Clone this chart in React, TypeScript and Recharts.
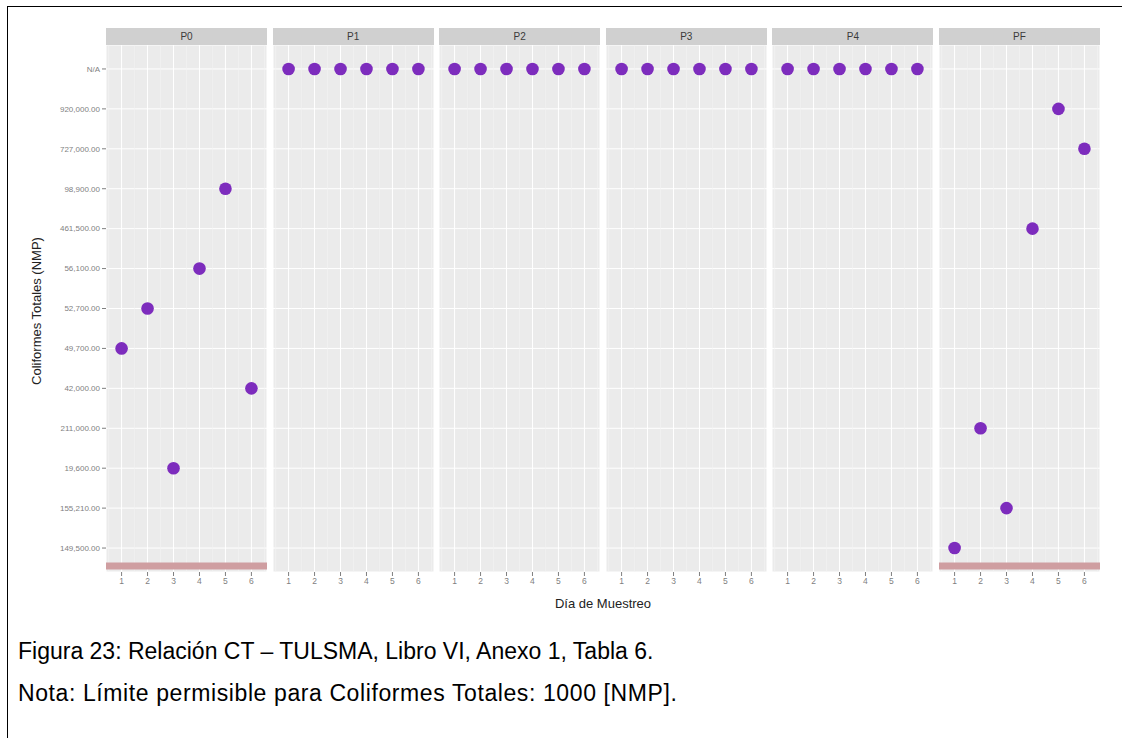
import React from "react";
import {
  ScatterChart,
  Scatter,
  XAxis,
  YAxis,
  CartesianGrid,
  ReferenceLine,
} from "recharts";

// facet names and x categories
const panels = ["P0", "P1", "P2", "P3", "P4", "PF"];
const days = [1, 2, 3, 4, 5, 6];

// discrete y levels, bottom to top (as ggplot ordered them)
const yLevels = [
  "149,500.00",
  "155,210.00",
  "19,600.00",
  "211,000.00",
  "42,000.00",
  "49,700.00",
  "52,700.00",
  "56,100.00",
  "461,500.00",
  "98,900.00",
  "727,000.00",
  "920,000.00",
  "N/A",
];

// values per panel, day 1..6
const p0Values = ["49,700.00", "52,700.00", "19,600.00", "56,100.00", "98,900.00", "42,000.00"];
const p1Values = ["N/A", "N/A", "N/A", "N/A", "N/A", "N/A"];
const p2Values = ["N/A", "N/A", "N/A", "N/A", "N/A", "N/A"];
const p3Values = ["N/A", "N/A", "N/A", "N/A", "N/A", "N/A"];
const p4Values = ["N/A", "N/A", "N/A", "N/A", "N/A", "N/A"];
const pfValues = ["149,500.00", "211,000.00", "155,210.00", "461,500.00", "920,000.00", "727,000.00"];

// panels that show the permissible-limit band (1000 NMP, below every level)
const limitPanels = ["P0", "PF"];

const panelValues = [p0Values, p1Values, p2Values, p3Values, p4Values, pfValues];

const minorX = [0.5, 1.5, 2.5, 3.5, 4.5, 5.5, 6.5];
const levelTicks = yLevels.map((_, i) => i);

const FONT = "'Liberation Sans', Arial, sans-serif";
const PLOT_TOP = 45;
const PLOT_H = 527;
const X_AXIS_H = 30;
const Y_AXIS_W = 100;
const PANEL_W = 161;
const PANEL_STEP = 166.6;
const FIRST_LEFT = 106;
const POINT = "#7d2cbd";

const Dot = (props: any) => {
  const { cx, cy } = props;
  if (cx == null || cy == null) return null;
  return <circle cx={cx} cy={cy} r={6.3} fill={POINT} />;
};

const Panel = ({ idx }: { idx: number }) => {
  const name = panels[idx];
  const withAxis = idx === 0;
  const data = days.map((d, i) => ({
    day: d,
    level: yLevels.indexOf(panelValues[idx][i]),
  }));
  const plotLeft = FIRST_LEFT + idx * PANEL_STEP;
  const left = withAxis ? plotLeft - Y_AXIS_W : plotLeft;
  const width = withAxis ? PANEL_W + Y_AXIS_W : PANEL_W;

  return (
    <>
      <div
        style={{
          position: "absolute",
          left: plotLeft,
          top: 28,
          width: PANEL_W,
          height: 17,
          background: "#d0d0d0",
          color: "#3a3a3a",
          fontFamily: FONT,
          fontSize: 10,
          lineHeight: "17px",
          textAlign: "center",
        }}
      >
        {name}
      </div>
      <div style={{ position: "absolute", left, top: PLOT_TOP }}>
        <ScatterChart
          width={width}
          height={PLOT_H + X_AXIS_H}
          margin={{ top: 0, right: 0, bottom: 0, left: 0 }}
        >
          <CartesianGrid fill="#ebebeb" stroke="#ffffff" strokeWidth={1} />
          {minorX.map((x) => (
            <ReferenceLine key={x} x={x} stroke="#f4f4f4" strokeWidth={0.6} />
          ))}
          <XAxis
            type="number"
            dataKey="day"
            domain={[0.4, 6.6]}
            ticks={days}
            allowDataOverflow
            height={X_AXIS_H}
            axisLine={false}
            tickSize={4}
            tickMargin={2}
            tickLine={{ stroke: "#7f7f7f" }}
            tick={{ fill: "#7f7f7f", fontSize: 8.5, fontFamily: FONT }}
          />
          <YAxis
            type="number"
            dataKey="level"
            domain={[-0.6, 12.6]}
            ticks={levelTicks}
            allowDataOverflow
            hide={!withAxis}
            width={Y_AXIS_W}
            axisLine={false}
            tickSize={4}
            tickMargin={2}
            tickLine={{ stroke: "#7f7f7f" }}
            tick={{ fill: "#7f7f7f", fontSize: 8, fontFamily: FONT }}
            tickFormatter={(v: number) => yLevels[v] ?? ""}
            interval={0}
          />
          {limitPanels.includes(name) && (
            <ReferenceLine y={-0.45} stroke="#cf9ea1" strokeWidth={7} />
          )}
          <Scatter
            data={data}
            shape={<Dot />}
            isAnimationActive={false}
          />
        </ScatterChart>
      </div>
    </>
  );
};

export default function App() {
  return (
    <div
      style={{
        position: "absolute",
        left: 0,
        top: 0,
        width: 1127,
        height: 738,
        background: "#ffffff",
        overflow: "hidden",
      }}
    >
      {/* page frame */}
      <div style={{ position: "absolute", left: 7, top: 6, width: 1115, height: 1, background: "#000" }} />
      <div style={{ position: "absolute", left: 7, top: 6, width: 1, height: 732, background: "#000" }} />

      {panels.map((_, i) => (
        <Panel key={i} idx={i} />
      ))}

      <div
        style={{
          position: "absolute",
          left: 503,
          top: 596,
          width: 200,
          textAlign: "center",
          fontFamily: FONT,
          fontSize: 13,
          color: "#222",
        }}
      >
        Día de Muestreo
      </div>
      <div
        style={{
          position: "absolute",
          left: 37 - 100,
          top: 311 - 8,
          width: 200,
          textAlign: "center",
          fontFamily: FONT,
          fontSize: 13,
          lineHeight: "16px",
          color: "#222",
          transform: "rotate(-90deg)",
        }}
      >
        Coliformes Totales (NMP)
      </div>

      <div
        style={{
          position: "absolute",
          left: 18,
          top: 637,
          fontFamily: FONT,
          fontSize: 23,
          lineHeight: "28px",
          color: "#000",
          whiteSpace: "nowrap",
        }}
      >
        Figura 23: Relación CT – TULSMA, Libro VI, Anexo 1, Tabla 6.
      </div>
      <div
        style={{
          position: "absolute",
          left: 18,
          top: 679,
          fontFamily: FONT,
          fontSize: 23,
          lineHeight: "28px",
          letterSpacing: 0.6,
          color: "#000",
          whiteSpace: "nowrap",
        }}
      >
        Nota: Límite permisible para Coliformes Totales: 1000 [NMP].
      </div>
    </div>
  );
}
